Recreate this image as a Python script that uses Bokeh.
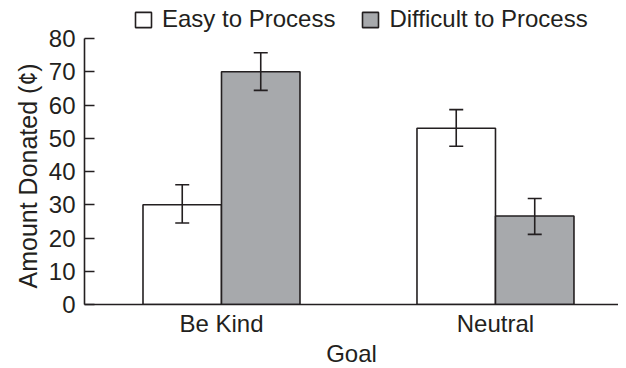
from bokeh.plotting import figure
from bokeh.models import (ColumnDataSource, Range1d, FixedTicker, Whisker, TeeHead,
                          Legend, LegendItem, Title)
from bokeh.embed import file_html
from bokeh.resources import INLINE

# ---- data ----
goals = ["Be Kind", "Neutral"]
easy = [30, 53]
easy_lo = [24.5, 47.6]
easy_hi = [36.0, 58.6]
difficult = [70, 26.6]
diff_lo = [64.4, 21.1]
diff_hi = [75.7, 31.9]
series_names = ["Easy to Process", "Difficult to Process"]
y_ticks = [0, 10, 20, 30, 40, 50, 60, 70, 80]
y_title = "Amount Donated (¢)"
x_title = "Goal"

# ---- style ----
INK = "#231f20"
GRAY = "#a7a9ac"
FONT = "Liberation Sans"
FS = "24px"
BAR_W = 0.2865
OFF = BAR_W / 2
AX_PX = 266          # pixels for 0..80
FRAME_H = 300        # frame extends above 80 to hold the legend
Y_MAX = y_ticks[-1]
Y_TOP = Y_MAX * FRAME_H / AX_PX

centers = [i + 0.5 for i in range(len(goals))]

p = figure(frame_width=534, frame_height=FRAME_H, output_backend="svg", toolbar_location=None,
           x_range=Range1d(0, 1.949), y_range=Range1d(0, Y_TOP),
           min_border_left=84, min_border_right=0, min_border_top=4, min_border_bottom=60)
p.outline_line_color = None
p.grid.visible = False
p.background_fill_color = "white"

src_e = ColumnDataSource(dict(x=[c - OFF for c in centers], top=easy, lo=easy_lo, hi=easy_hi))
src_d = ColumnDataSource(dict(x=[c + OFF for c in centers], top=difficult, lo=diff_lo, hi=diff_hi))

r_e = p.vbar(x="x", top="top", width=BAR_W, source=src_e, fill_color="white",
             line_color=INK, line_width=1.6)
r_d = p.vbar(x="x", top="top", width=BAR_W, source=src_d, fill_color=GRAY,
             line_color=INK, line_width=1.6)

for src in (src_e, src_d):
    w = Whisker(base="x", lower="lo", upper="hi", source=src, line_color=INK, line_width=1.6,
                level="overlay",
                upper_head=TeeHead(size=14, line_color=INK, line_width=1.6),
                lower_head=TeeHead(size=14, line_color=INK, line_width=1.6))
    p.add_layout(w)

# axes
p.xaxis.ticker = FixedTicker(ticks=centers)
p.xaxis.major_label_overrides = {c: g for c, g in zip(centers, goals)}
p.xaxis.minor_tick_line_color = None
p.xaxis.axis_label = x_title
p.yaxis.ticker = FixedTicker(ticks=y_ticks)
p.yaxis.bounds = (0, Y_MAX)
p.yaxis.major_tick_in = 10
p.yaxis.major_tick_out = 0
p.yaxis.minor_tick_line_color = None
for ax in (p.xaxis, p.yaxis):
    ax.axis_line_color = INK
    ax.axis_line_width = 1.6
    ax.major_tick_line_width = 1.6
    ax.major_label_text_font = FONT
    ax.major_label_text_font_size = FS
    ax.major_label_text_color = INK
    ax.axis_label_text_font = FONT
    ax.axis_label_text_font_size = FS
    ax.axis_label_text_font_style = "normal"
    ax.axis_label_text_color = INK
p.yaxis.major_tick_line_color = INK
p.xaxis.major_tick_line_color = None
p.xaxis.major_tick_in = 0
p.xaxis.major_tick_out = 0
p.yaxis.major_label_standoff = 9
p.xaxis.major_label_standoff = 5
p.xaxis.axis_label_standoff = 0

# y-axis title as a left-side title so it can be aligned to the 0..80 axis span
yt = Title(text=y_title, align="left", offset=16, standoff=7,
           text_font=FONT, text_font_size="25px", text_font_style="normal", text_color=INK)
p.add_layout(yt, "left")

legend = Legend(items=[LegendItem(label=series_names[0], renderers=[r_e]),
                       LegendItem(label=series_names[1], renderers=[r_d])],
                orientation="horizontal", location=(49, 271),
                glyph_width=20, glyph_height=19, label_standoff=9, spacing=25,
                padding=0, margin=0, border_line_color=None, background_fill_alpha=0,
                label_text_font=FONT, label_text_font_size=FS, label_text_color=INK,
                label_height=19)
p.add_layout(legend, "center")

open("out.html", "w").write(file_html(p, INLINE))
